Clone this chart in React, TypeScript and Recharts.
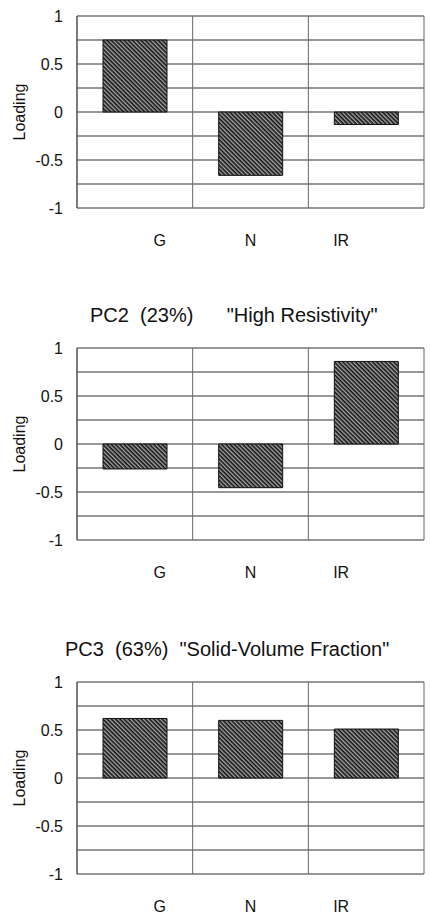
import { BarChart, Bar, XAxis, YAxis, CartesianGrid, Label } from 'recharts';

const categories = ['G', 'N', 'IR'];
const pc1Loadings = [0.75, -0.66, -0.13];
const pc2Loadings = [-0.26, -0.455, 0.86];
const pc3Loadings = [0.62, 0.6, 0.51];
const yTicks = [-1, -0.75, -0.5, -0.25, 0, 0.25, 0.5, 0.75, 1];
const yLabelTicks = [-1, -0.5, 0, 0.5, 1];
const pc2Title = 'PC2  (23%)      "High Resistivity"';
const pc3Title = 'PC3  (63%)  "Solid-Volume Fraction"';

const FONT = '"Liberation Sans", Arial, Helvetica, sans-serif';

const CategoryTick = (props: any) => {
  const { x, y, payload, index } = props;
  // labels in the original sit a bit closer together than the bars
  return (
    <text x={x + (1 - index) * 25} y={y + 32} textAnchor="middle" dominantBaseline="central"
      fontFamily={FONT} fontSize={16} fill="#111">
      {payload.value}
    </text>
  );
};

function LoadingPanel({ id, values, top }: { id: string; values: number[]; top: number }) {
  const data = categories.map((cat, i) => ({ cat, value: values[i] }));
  return (
    <div style={{ position: 'absolute', left: 0, top }}>
      <BarChart width={431} height={254} data={data} margin={{ top: 16, right: 7, left: 0, bottom: 0 }}>
        <defs>
          <pattern id={id} width={3} height={3} patternUnits="userSpaceOnUse" patternTransform="rotate(45)">
            <rect width={3} height={3} fill="#a6a6a6" />
            <line x1={0} y1={0.8} x2={3} y2={0.8} stroke="#111" strokeWidth={1.6} />
          </pattern>
        </defs>
        <CartesianGrid vertical={false} stroke="#333" />
        <CartesianGrid
          horizontal={false}
          stroke="#666"
          verticalCoordinatesGenerator={({ offset }: any) =>
            [0, 1, 2, 3].map(i => offset.left + (offset.width * i) / categories.length)}
        />
        <XAxis dataKey="cat" height={46} tickLine={false} axisLine={false} tickSize={0} tickMargin={0}
          interval={0} tick={<CategoryTick />} />
        <YAxis
          width={77}
          domain={[-1, 1]}
          ticks={yTicks}
          interval={0}
          tickLine={false}
          tickSize={0}
          tickMargin={14}
          axisLine={{ stroke: '#444' }}
          tickFormatter={(v: number) => (yLabelTicks.includes(v) ? String(v) : '')}
          tick={{ fontFamily: FONT, fontSize: 16, fill: '#111' }}
        >
          <Label
            content={({ viewBox }: any) => {
              const cx = viewBox.x + 19;
              const cy = viewBox.y + viewBox.height / 2;
              return (
                <text x={cx} y={cy} transform={`rotate(-90, ${cx}, ${cy})`} textAnchor="middle"
                  dominantBaseline="central" fontFamily={FONT} fontSize={16} fill="#111">
                  Loading
                </text>
              );
            }}
          />
        </YAxis>
        <Bar dataKey="value" barSize={64} fill={`url(#${id})`} stroke="#111" strokeWidth={1}
          isAnimationActive={false} />
      </BarChart>
    </div>
  );
}

const titleStyle: React.CSSProperties = {
  position: 'absolute',
  fontFamily: FONT,
  fontSize: 20,
  lineHeight: '24px',
  whiteSpace: 'pre',
  color: '#111',
};

export default function App() {
  return (
    <div style={{ position: 'absolute', left: 0, top: 0, width: 431, height: 913, background: '#fff', overflow: 'hidden' }}>
      <LoadingPanel id="hatch1" values={pc1Loadings} top={0} />
      <div style={{ ...titleStyle, left: 90, top: 303 }}>{pc2Title}</div>
      <LoadingPanel id="hatch2" values={pc2Loadings} top={332} />
      <div style={{ ...titleStyle, left: 65, top: 637 }}>{pc3Title}</div>
      <LoadingPanel id="hatch3" values={pc3Loadings} top={666} />
    </div>
  );
}
